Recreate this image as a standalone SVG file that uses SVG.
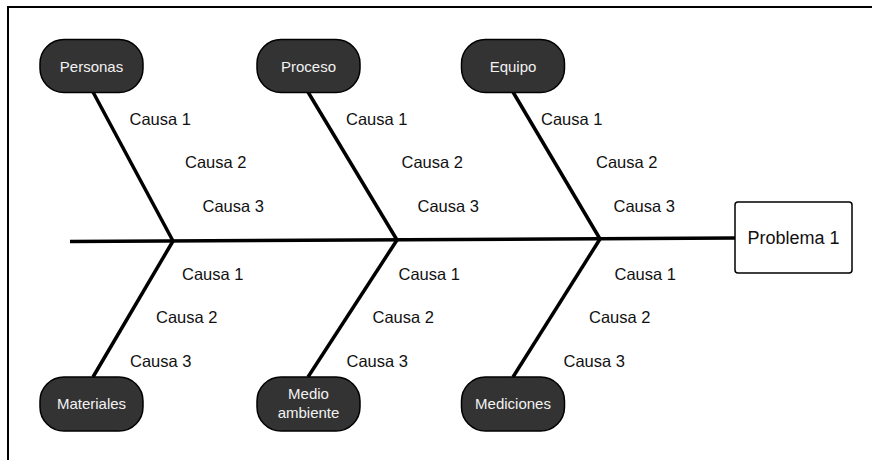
<svg xmlns="http://www.w3.org/2000/svg" width="872" height="460" viewBox="0 0 872 460">
  <style>
    .frame { fill: none; stroke: #000; stroke-width: 2; }
    .cat rect { fill: #333333; stroke: #000; stroke-width: 1.5; }
    .cat text { fill: #f2f2f2; font-family: "Liberation Sans", Arial, sans-serif; font-size: 15px; text-anchor: middle; }
    .bone { stroke: #000; stroke-width: 3.5; fill: none; stroke-linecap: butt; }
    .cause { fill: #111; font-family: "Liberation Sans", Arial, sans-serif; font-size: 16.5px; }
    .effect rect { fill: #fff; stroke: #000; stroke-width: 1.5; }
    .effect text { fill: #111; font-family: "Liberation Sans", Arial, sans-serif; font-size: 18px; text-anchor: middle; }
  </style>

  <rect width="872" height="460" fill="#fff"/>
  <!-- page frame: top and left edges -->
  <path class="frame" d="M8 460 V7 H872"/>

  <!-- spine and ribs -->
  <g id="connectors">
    <path class="bone" d="M70 241.5 L735 238"/>
    <path class="bone" d="M93 92 L173 241"/>
    <path class="bone" d="M308 92 L397 240"/>
    <path class="bone" d="M513 92 L600 239"/>
    <path class="bone" d="M93 377 L173 241"/>
    <path class="bone" d="M308 377 L397 240"/>
    <path class="bone" d="M513 377 L600 239"/>
  </g>

  <!-- upper categories -->
  <g id="personas" class="cat">
    <rect x="40" y="39.5" width="103" height="53" rx="24"/>
    <text x="91.5" y="71.5">Personas</text>
  </g>
  <g id="proceso" class="cat">
    <rect x="257" y="39.5" width="103" height="53" rx="24"/>
    <text x="308.5" y="71.5">Proceso</text>
  </g>
  <g id="equipo" class="cat">
    <rect x="461.5" y="39.5" width="103" height="53" rx="24"/>
    <text x="513" y="71.5">Equipo</text>
  </g>

  <!-- lower categories -->
  <g id="materiales" class="cat">
    <rect x="40" y="377" width="103" height="54" rx="24"/>
    <text x="91.5" y="409">Materiales</text>
  </g>
  <g id="medio-ambiente" class="cat">
    <rect x="257" y="377" width="103" height="54" rx="24"/>
    <text x="308.5" y="399">Medio</text>
    <text x="308.5" y="418">ambiente</text>
  </g>
  <g id="mediciones" class="cat">
    <rect x="461.5" y="377" width="103" height="54" rx="24"/>
    <text x="513" y="409">Mediciones</text>
  </g>

  <!-- effect -->
  <g id="problema" class="effect">
    <rect x="735" y="202" width="117" height="71" rx="3"/>
    <text x="793.5" y="244">Problema 1</text>
  </g>

  <!-- causes -->
  <g id="causes">
    <text class="cause" x="129.5" y="125">Causa 1</text>
    <text class="cause" x="185" y="168">Causa 2</text>
    <text class="cause" x="202.5" y="212">Causa 3</text>
    <text class="cause" x="346" y="125">Causa 1</text>
    <text class="cause" x="401.5" y="168">Causa 2</text>
    <text class="cause" x="417.5" y="212">Causa 3</text>
    <text class="cause" x="541" y="125">Causa 1</text>
    <text class="cause" x="596" y="168">Causa 2</text>
    <text class="cause" x="613.5" y="212">Causa 3</text>

    <text class="cause" x="182" y="280">Causa 1</text>
    <text class="cause" x="156" y="323">Causa 2</text>
    <text class="cause" x="130" y="367">Causa 3</text>
    <text class="cause" x="398.5" y="280">Causa 1</text>
    <text class="cause" x="372.5" y="323">Causa 2</text>
    <text class="cause" x="346.5" y="367">Causa 3</text>
    <text class="cause" x="614.5" y="280">Causa 1</text>
    <text class="cause" x="589" y="323">Causa 2</text>
    <text class="cause" x="563.5" y="367">Causa 3</text>
  </g>
</svg>
